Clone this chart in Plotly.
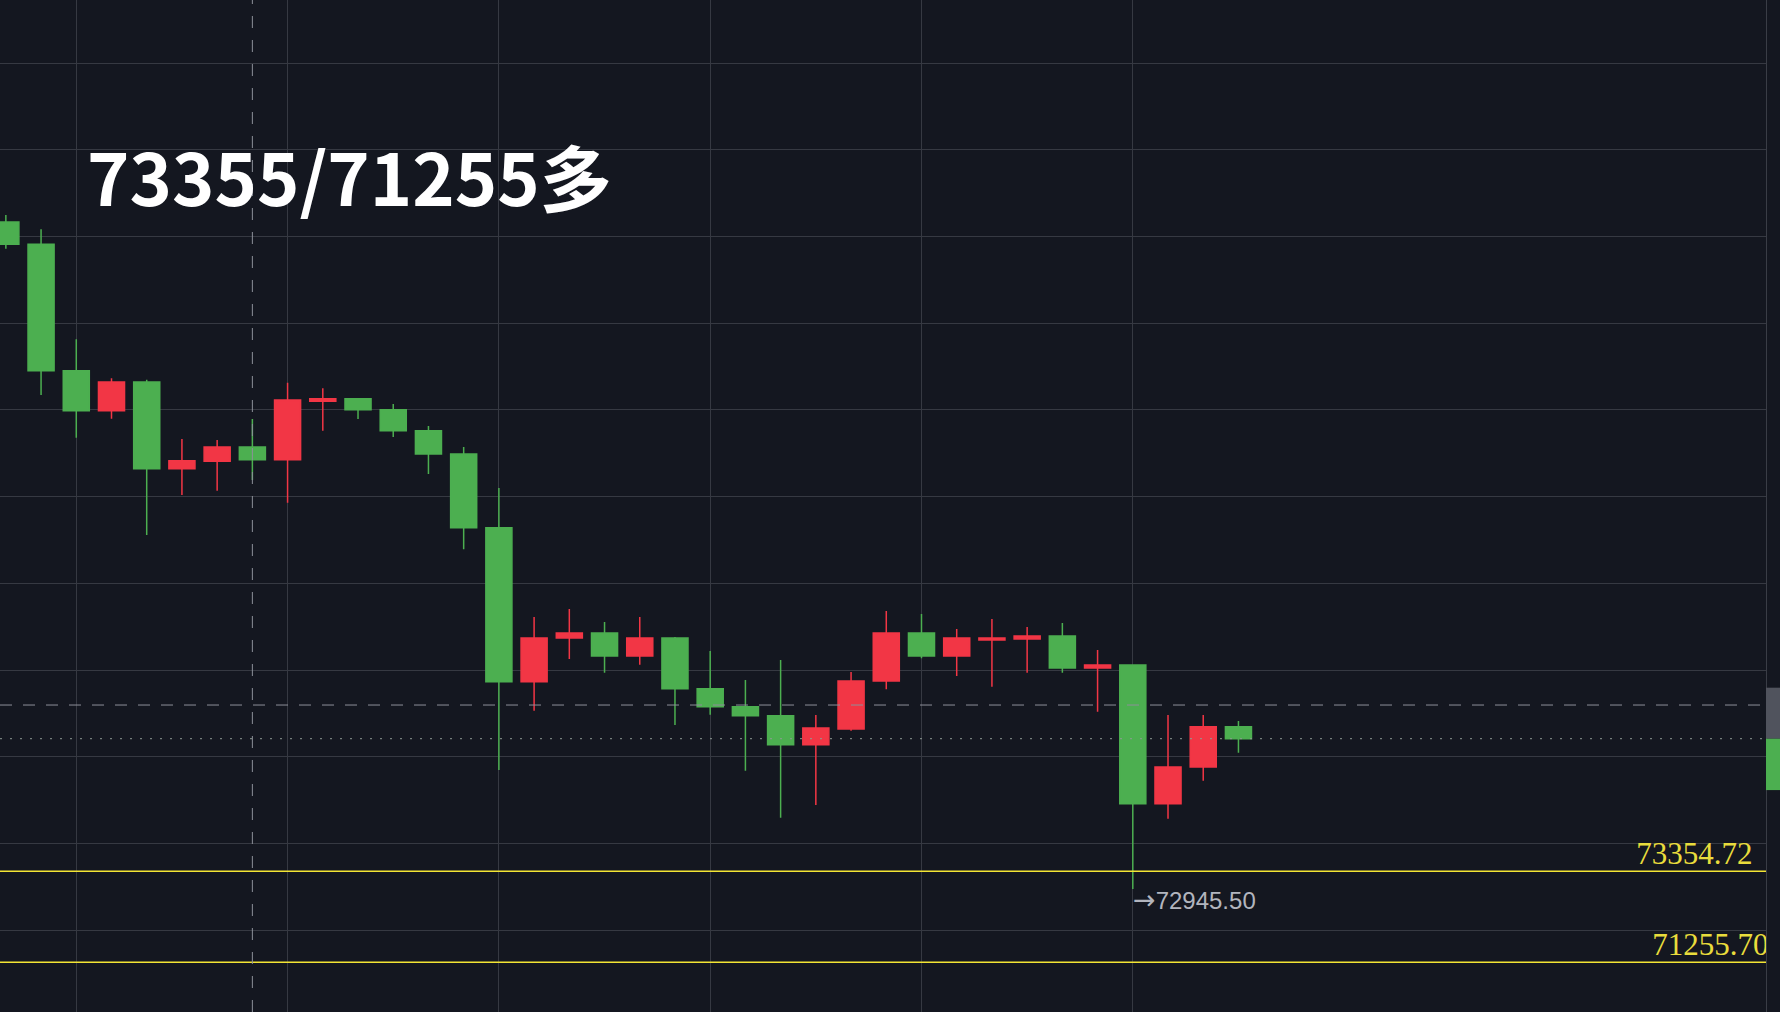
# -*- coding: utf-8 -*-
'''
    Candlestick chart with two marked levels (73355 / 71255) on a dark background.
'''

import plotly.graph_objects as go

# Candle data, one entry per bar
bar_index = list(range(36))
open_ = [88340, 87824, 84907, 83984, 84646, 82645, 82820, 83146, 82853, 84201,
         84261, 84007, 83522, 82985, 81284, 77730, 78738, 78854, 78323, 78738,
         77569, 77153, 76945, 76276, 76640, 77746, 78854, 78323, 78692, 78715,
         78785, 78046, 78115, 74915, 75762, 76692]
high = [88500, 88170, 85632, 84732, 84700, 83331, 83308, 83792, 84630, 84501,
        84261, 84138, 83631, 83146, 82200, 79223, 79408, 79108, 79223, 78762,
        78438, 77769, 78231, 76962, 77954, 79362, 79292, 78946, 79177, 78992,
        79085, 78462, 78115, 76962, 76962, 76823]
low = [87722, 84346, 83361, 83799, 81115, 82038, 82138, 82385, 81861, 83522,
       83792, 83377, 82523, 80785, 75692, 77061, 78254, 77938, 78122, 76731,
       76969, 75676, 74592, 74885, 76599, 77555, 78270, 77862, 77615, 77938,
       77938, 77038, 72945.50, 74569, 75445, 76092]
close = [87824, 84907, 83984, 84646, 82645, 82830, 83146, 82853, 84231, 84261,
         84007, 83522, 82985, 81284, 77730, 78738, 78854, 78323, 78738, 77569,
         77153, 76945, 76276, 76662, 77746, 78854, 78323, 78738, 78738, 78785,
         78046, 78115, 74915, 75762, 76692, 76415]

# Marked levels and labels
levels = [73354.72, 71255.70]
level_labels = ['73354.72', '71255.70']
title_text = '73355/71255多'
low_label = '72945.50'

# Crosshair position
cross_bar = 7
cross_price = 77192

# Colours
BG = '#141720'
GRID = '#363942'
UP = '#f23645'      # rising candles are red
DOWN = '#4caf50'    # falling candles are green
YELLOW = '#f3e534'

# Axis ranges so the bars sit where they do in the picture
X_RANGE = [-0.166, 49.98]
Y_RANGE = [70108, 93461]
PLOT_RIGHT = 1766 / 1780


def build_figure():
    fig = go.Figure()

    # Candles
    fig.add_trace(go.Candlestick(
        x=bar_index, open=open_, high=high, low=low, close=close,
        increasing=dict(line=dict(color=UP, width=1.5), fillcolor=UP),
        decreasing=dict(line=dict(color=DOWN, width=1.5), fillcolor=DOWN),
        whiskerwidth=0,
        showlegend=False,
        hoverinfo='skip',
    ))

    # Level labels, clipped by the plot area like the right one in the picture
    fig.add_trace(go.Scatter(
        x=[49.6, 50.05], y=levels, mode='text', text=level_labels,
        textposition='top left',
        textfont=dict(family='Liberation Serif', size=31, color='#e9dc3c'),
        showlegend=False, hoverinfo='skip', cliponaxis=True,
    ))

    # Yellow level lines
    for lv in levels:
        fig.add_shape(type='line', xref='paper', x0=0, x1=PLOT_RIGHT,
                      yref='y', y0=lv, y1=lv,
                      line=dict(color=YELLOW, width=1.5), layer='above')

    # Crosshair
    fig.add_shape(type='line', xref='x', x0=cross_bar, x1=cross_bar,
                  yref='paper', y0=0, y1=1,
                  line=dict(color='#8d9099', width=1, dash='12px,12px'))
    fig.add_shape(type='line', xref='paper', x0=0, x1=PLOT_RIGHT,
                  yref='y', y0=cross_price, y1=cross_price,
                  line=dict(color='#8d9099', width=1, dash='12px,11px'))

    # Last price line (dotted)
    fig.add_shape(type='line', xref='paper', x0=0, x1=PLOT_RIGHT,
                  yref='y', y0=close[-1], y1=close[-1],
                  line=dict(color='#8e9a93', width=1, dash='2px,8px'))

    # Price-axis label boxes, cut off at the window edge
    fig.add_shape(type='rect', xref='paper', x0=PLOT_RIGHT, x1=1,
                  yref='y', y0=close[-1], y1=cross_price + 400,
                  fillcolor='#50535d', line=dict(width=0))
    fig.add_shape(type='rect', xref='paper', x0=PLOT_RIGHT, x1=1,
                  yref='y', y0=close[-1] - 1186, y1=close[-1],
                  fillcolor=DOWN, line=dict(width=0))

    # Low marker text
    fig.add_annotation(
        x=bar_index[low.index(min(low))], y=min(low), xref='x', yref='y',
        text='<span style="font-family:DejaVu Sans;font-size:27px">→</span>' + low_label,
        showarrow=False, xanchor='left', yanchor='middle',
        yshift=-10, xshift=-2,
        font=dict(family='Liberation Sans', size=24, color='#b2b5be'),
    )

    # Big title
    fig.add_annotation(
        x=0.048, y=0.8275, xref='paper', yref='paper',
        text=title_text, showarrow=False, xanchor='left', yanchor='middle',
        font=dict(family='Noto Sans CJK SC', size=72, color='white', weight=700),
    )

    fig.update_layout(
        width=1780, height=1012,
        margin=dict(l=0, r=0, t=0, b=0),
        paper_bgcolor=BG, plot_bgcolor=BG,
        boxgap=0.26, boxgroupgap=0,
        xaxis=dict(
            domain=[0, PLOT_RIGHT], range=X_RANGE,
            rangeslider=dict(visible=False),
            tickmode='array', tickvals=[2, 8, 14, 20, 26, 32],
            showticklabels=False, ticks='',
            showgrid=True, gridcolor=GRID, gridwidth=1,
            zeroline=False, showline=False, fixedrange=True,
        ),
        yaxis=dict(
            range=Y_RANGE, side='right',
            tick0=0, dtick=2000,
            showticklabels=False, ticks='',
            showgrid=True, gridcolor=GRID, gridwidth=1,
            zeroline=False, showline=True, linecolor='#3a3d46', linewidth=1,
            fixedrange=True,
        ),
        hovermode=False,
    )
    return fig


fig = build_figure()
fig.write_html(
    "out.html",
    config={'displayModeBar': False},
    post_script="document.body.style.margin='0';document.body.style.overflow='hidden';",
)
